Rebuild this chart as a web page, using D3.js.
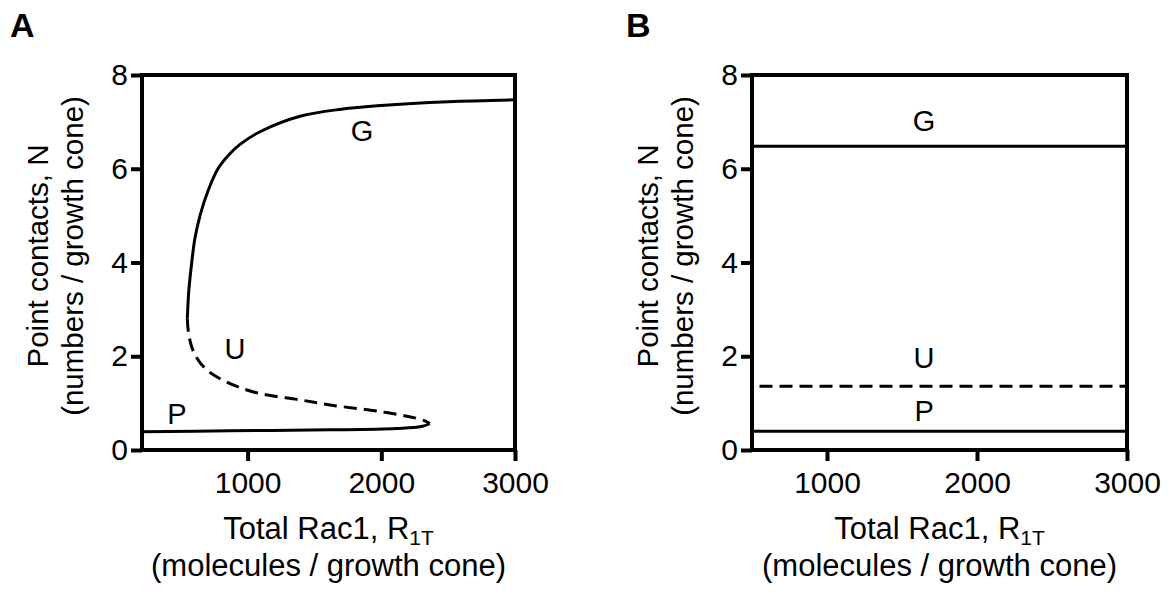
<!DOCTYPE html>
<html>
<head>
<meta charset="utf-8">
<script src="https://cdn.jsdelivr.net/npm/d3@7"></script>
<style>
  body { margin: 0; background: #fff; }
  svg { display: block; font-family: Arial, "Liberation Sans", Helvetica, sans-serif; }
</style>
</head>
<body>
<div id="chart"></div>
<script>
  // tick labels
  const xTicks = [1000, 2000, 3000]
  const yTicks = [0, 2, 4, 6, 8]

  // panel A: bifurcation curve (R1T, N)
  const aUpper = [[549, 2.8], [552, 3.0], [560, 3.4], [582, 4.0], [605, 4.5], [644, 5.0],
    [700, 5.5], [778, 6.0], [860, 6.3], [943, 6.52], [1100, 6.8], [1392, 7.12],
    [1700, 7.27], [2000, 7.35], [2500, 7.43], [3000, 7.47]]
  const aUnstable = [[549, 2.8], [562, 2.42], [606, 2.03], [694, 1.71], [843, 1.45],
    [1068, 1.22], [1392, 1.07], [1616, 0.96], [1990, 0.82], [2259, 0.68], [2340, 0.6], [2362, 0.56]]
  const aLower = [[2362, 0.56], [2300, 0.5], [2115, 0.46], [1616, 0.43], [868, 0.41], [210, 0.39]]

  // panel B: flat steady states
  const bRange = [500, 3000]
  const bUpper = 6.48
  const bUnstable = 1.36
  const bLower = 0.4

  const aLabels = [['G', 1856, 6.6], ['U', 906, 1.95], ['P', 472, 0.56]]
  const bLabels = [['G', 1647, 6.8], ['U', 1647, 1.75], ['P', 1647, 0.62]]

  const width = 1169
  const height = 595
  const plotTop = 75
  const plotBottom = 450

  const svg = d3.select('#chart').append('svg')
    .attr('width', width)
    .attr('height', height)

  const drawPanel = function (opts) {
    const x = d3.scaleLinear().domain(opts.xDomain).range([opts.left, opts.right])
    const y = d3.scaleLinear().domain([0, 8]).range([plotBottom, plotTop])
    const g = svg.append('g')

    g.append('text')
      .attr('x', opts.letterX)
      .attr('y', 37)
      .attr('font-size', 34)
      .attr('font-weight', 'bold')
      .text(opts.letter)

    const xAxis = g.append('g')
      .attr('transform', 'translate(0,' + plotBottom + ')')
      .call(d3.axisBottom(x).tickValues(xTicks).tickFormat(d3.format('d'))
        .tickSize(11).tickPadding(11).tickSizeOuter(0))
    const yAxis = g.append('g')
      .attr('transform', 'translate(' + opts.left + ',0)')
      .call(d3.axisLeft(y).tickValues(yTicks).tickFormat(d3.format('d'))
        .tickSize(11).tickPadding(3).tickSizeOuter(0))

    ;[xAxis, yAxis].forEach(function (ax) {
      ax.select('.domain').remove()
      ax.selectAll('line').attr('stroke', '#000').attr('stroke-width', 4)
      ax.selectAll('text').attr('font-size', 30).attr('fill', '#000')
        .style('font-family', 'Arial, "Liberation Sans", sans-serif')
    })

    g.append('rect')
      .attr('x', opts.left)
      .attr('y', plotTop)
      .attr('width', opts.right - opts.left)
      .attr('height', plotBottom - plotTop)
      .attr('fill', 'none')
      .attr('stroke', '#000')
      .attr('stroke-width', 4)

    const line = d3.line()
      .x(function (d) { return x(d[0]) })
      .y(function (d) { return y(d[1]) })
      .curve(d3.curveCatmullRom.alpha(0.5))

    opts.series.forEach(function (s) {
      g.append('path')
        .datum(s.points)
        .attr('d', line)
        .attr('fill', 'none')
        .attr('stroke', '#000')
        .attr('stroke-width', 3)
        .attr('stroke-dasharray', s.dashed ? '13,7' : null)
    })

    opts.labels.forEach(function (l) {
      g.append('text')
        .attr('x', x(l[1]))
        .attr('y', y(l[2]))
        .attr('text-anchor', 'middle')
        .attr('font-size', 29)
        .text(l[0])
    })

    const cx = (opts.left + opts.right) / 2
    const xt = g.append('text')
      .attr('x', cx)
      .attr('y', 539)
      .attr('text-anchor', 'middle')
      .attr('font-size', 31)
    xt.append('tspan').text('Total Rac1, R')
    xt.append('tspan').attr('font-size', 21).attr('dy', 6).text('1T')
    g.append('text')
      .attr('x', cx)
      .attr('y', 576)
      .attr('text-anchor', 'middle')
      .attr('font-size', 31)
      .text('(molecules / growth cone)')

    const cy = 256
    g.append('text')
      .attr('transform', 'translate(' + (opts.left - 94) + ',' + cy + ') rotate(-90)')
      .attr('text-anchor', 'middle')
      .attr('font-size', 29.5)
      .text('Point contacts, N')
    g.append('text')
      .attr('transform', 'translate(' + (opts.left - 59) + ',' + cy + ') rotate(-90)')
      .attr('text-anchor', 'middle')
      .attr('font-size', 29.5)
      .text('(numbers / growth cone)')
  }

  drawPanel({
    letter: 'A',
    letterX: 10,
    left: 142,
    right: 515,
    xDomain: [210, 3000],
    series: [
      { points: aUpper, dashed: false },
      { points: aUnstable, dashed: true },
      { points: aLower, dashed: false }
    ],
    labels: aLabels
  })

  drawPanel({
    letter: 'B',
    letterX: 626,
    left: 752,
    right: 1127,
    xDomain: bRange,
    series: [
      { points: bRange.map(function (r) { return [r, bUpper] }), dashed: false },
      { points: [[bRange[0] + 50, bUnstable], [bRange[1], bUnstable]], dashed: true },
      { points: bRange.map(function (r) { return [r, bLower] }), dashed: false }
    ],
    labels: bLabels
  })
</script>
</body>
</html>
